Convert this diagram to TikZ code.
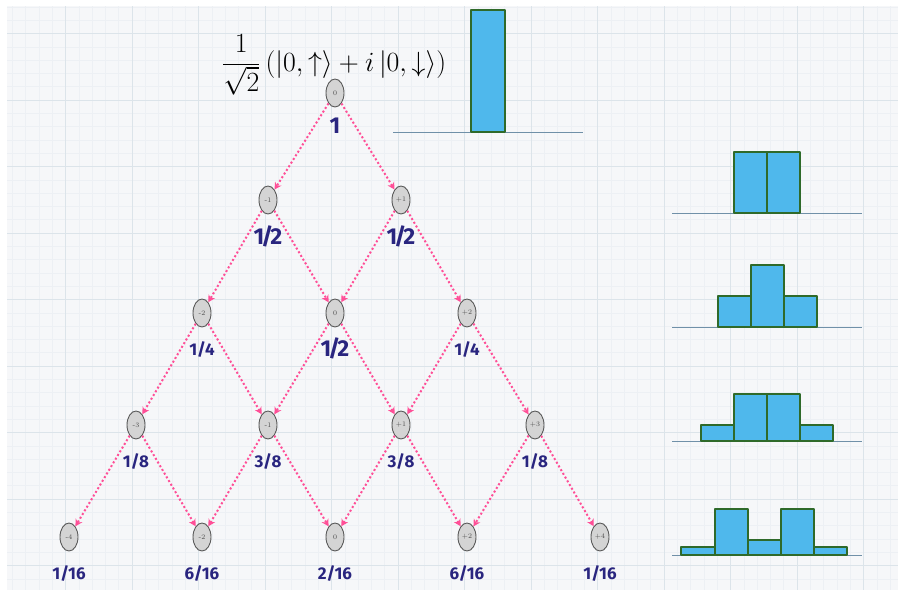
\documentclass[tikz,border=0pt]{standalone}
\usepackage{fontspec}
\newfontfamily\labfont{Fira Sans}
\usetikzlibrary{arrows.meta,shapes.geometric}
\definecolor{pinkarrow}{HTML}{FF4F97}
\definecolor{labcol}{HTML}{29257F}
\definecolor{barfill}{HTML}{4FB8EC}
\definecolor{bardraw}{HTML}{2F6A2A}
\definecolor{baseln}{HTML}{7090A8}
\definecolor{gridminor}{HTML}{EDF0F4}
\definecolor{gridmajor}{HTML}{DCE4EA}
\definecolor{bgcol}{HTML}{F6F7F9}
\tikzset{
  st/.style={ellipse, draw=black!65, fill=black!17, minimum width=18pt, minimum height=28pt,
    inner sep=0pt, line width=0.9pt, font=\fontsize{7}{7}\selectfont, text=black!70},
  arr/.style={draw=pinkarrow, line width=2pt, dash pattern=on 2pt off 2.3pt,
    -{Stealth[length=7pt,width=7.5pt]}},
  prob/.style={text=labcol, font=\labfont\bfseries\fontsize{17}{17}\selectfont},
  probbig/.style={text=labcol, font=\labfont\bfseries\fontsize{23}{23}\selectfont},
  bar/.style={fill=barfill, draw=bardraw, line width=1.8pt, line join=round},
  base/.style={draw=baseln, line width=0.8pt}
}
\begin{document}
\begin{tikzpicture}[x=1pt,y=-1pt]
\useasboundingbox (0,0) rectangle (898,590);
\fill[white] (0,0) rectangle (898,590);
\fill[bgcol] (7,6) rectangle (898,590);
% grid
\foreach \i in {0,...,66} {\draw[gridminor, line width=0.5pt] ({12.3+13.3*\i},6) -- ({12.3+13.3*\i},590);}
\foreach \j in {0,...,43} {\draw[gridminor, line width=0.5pt] (7,{6.9+13.3*\j}) -- (898,{6.9+13.3*\j});}
\foreach \i in {0,...,12} {\draw[gridmajor, line width=0.7pt] ({65.5+66.5*\i},6) -- ({65.5+66.5*\i},590);}
\foreach \j in {0,...,8} {\draw[gridmajor, line width=0.7pt] (7,{33.5+66.5*\j}) -- (898,{33.5+66.5*\j});}

% formula
\node[inner sep=0pt, scale=1.34] (psi) at (334,65) {\fontsize{22}{26}\selectfont $\displaystyle\frac{1}{\sqrt{2}}\,(|0,\uparrow\rangle + i\,|0,\downarrow\rangle)$};

% nodes
\node[st] (r0a) at (335,93) {0};
\node[st] (r1a) at (268,200) {-1};
\node[st] (r1b) at (401,200) {+1};
\node[st] (r2a) at (202,313) {-2};
\node[st] (r2b) at (335,313) {0};
\node[st] (r2c) at (467,313) {+2};
\node[st] (r3a) at (136,425) {-3};
\node[st] (r3b) at (268,425) {-1};
\node[st] (r3c) at (401,425) {+1};
\node[st] (r3d) at (535,425) {+3};
\node[st] (r4a) at (69,537) {-4};
\node[st] (r4b) at (202,537) {-2};
\node[st] (r4c) at (335,537) {0};
\node[st] (r4d) at (467,537) {+2};
\node[st] (r4e) at (600,537) {+4};

% arrows
\draw[arr] (r0a) -- (r1a); \draw[arr] (r0a) -- (r1b);
\draw[arr] (r1a) -- (r2a); \draw[arr] (r1a) -- (r2b);
\draw[arr] (r1b) -- (r2b); \draw[arr] (r1b) -- (r2c);
\draw[arr] (r2a) -- (r3a); \draw[arr] (r2a) -- (r3b);
\draw[arr] (r2b) -- (r3b); \draw[arr] (r2b) -- (r3c);
\draw[arr] (r2c) -- (r3c); \draw[arr] (r2c) -- (r3d);
\draw[arr] (r3a) -- (r4a); \draw[arr] (r3a) -- (r4b);
\draw[arr] (r3b) -- (r4b); \draw[arr] (r3b) -- (r4c);
\draw[arr] (r3c) -- (r4c); \draw[arr] (r3c) -- (r4d);
\draw[arr] (r3d) -- (r4d); \draw[arr] (r3d) -- (r4e);

% probability labels
\node[probbig] (l0a) at (335,126) {1};
\node[probbig] (l1a) at (268,236) {1\kern-3pt/\kern-3pt2};
\node[probbig] (l1b) at (401,236) {1\kern-3pt/\kern-3pt2};
\node[prob] (l2a) at (202,350) {1/4};
\node[probbig] (l2b) at (335,348) {1\kern-3pt/\kern-3pt2};
\node[prob] (l2c) at (467,350) {1/4};
\node[prob] (l3a) at (136,462) {1/8};
\node[prob] (l3b) at (268,462) {3/8};
\node[prob] (l3c) at (401,462) {3/8};
\node[prob] (l3d) at (535,462) {1/8};
\node[prob] (l4a) at (69,574) {1/16};
\node[prob] (l4b) at (202,574) {6/16};
\node[prob] (l4c) at (335,574) {2/16};
\node[prob] (l4d) at (467,574) {6/16};
\node[prob] (l4e) at (600,574) {1/16};

% histograms
\draw[base] (393,132.5) -- (583,132.5);
\draw[bar] (471,132) rectangle (505,10);

\draw[base] (672,213) -- (862,213);
\draw[bar] (734,213) rectangle (767,152);
\draw[bar] (767,213) rectangle (800,152);

\draw[base] (672,327) -- (862,327);
\draw[bar] (718,327) rectangle (751,296);
\draw[bar] (751,327) rectangle (784,265);
\draw[bar] (784,327) rectangle (817,296);

\draw[base] (672,441) -- (862,441);
\draw[bar] (701,441) rectangle (734,425);
\draw[bar] (734,441) rectangle (767,394);
\draw[bar] (767,441) rectangle (800,394);
\draw[bar] (800,441) rectangle (833,425);

\draw[base] (672,555) -- (862,555);
\draw[bar] (681,555) rectangle (715,547);
\draw[bar] (715,555) rectangle (748,509);
\draw[bar] (748,555) rectangle (781,540);
\draw[bar] (781,555) rectangle (814,509);
\draw[bar] (814,555) rectangle (847,547);
\end{tikzpicture}
\end{document}
